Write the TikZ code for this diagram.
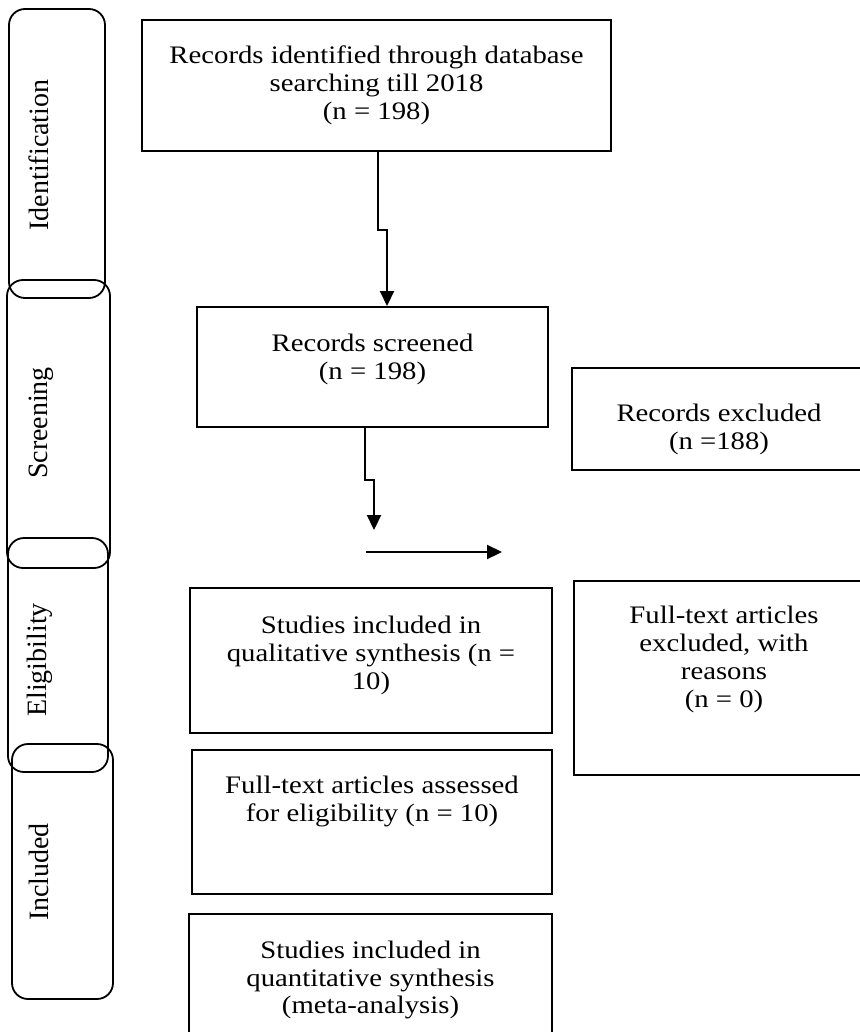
\documentclass[tikz,border=0pt,12pt]{standalone}
\usepackage{fontspec}
\setmainfont{Liberation Serif}[FakeStretch=1.14]
\newfontfamily\lanefont{Liberation Serif}
\usetikzlibrary{arrows.meta}

% invisible struts to nudge text inside the boxes
\newcommand{\padb}[1]{\rule[-#1]{0pt}{#1}}
\newcommand{\padt}[1]{\rule{0pt}{#1}}

\begin{document}
\begin{tikzpicture}[
  x=0.5pt,y=-0.5pt,
  font=\fontsize{12.6}{13.9}\selectfont,
  box/.style={draw,line width=1pt,align=center,inner sep=0pt},
  lane/.style={draw,line width=0.9pt,rounded corners=8pt},
  tag/.style={rotate=90,anchor=base,inner sep=0pt,font=\lanefont\fontsize{14}{16}\selectfont},
  arr/.style={line width=1.1pt,-{Triangle[length=7.5pt,width=7pt]}}
]
\clip (0,0) rectangle (860,1032);
% stage lanes
\draw[lane] (9,9) rectangle (105,298);
\draw[lane] (7,280) rectangle (110,568);
\draw[lane] (8,538) rectangle (108,772);
\draw[lane] (12,744) rectangle (113,999);
\node[tag] (identtag) at (48,155) {Identification};
\node[tag] (screentag) at (47,423) {Screening};
\node[tag] (eligtag) at (46,660) {Eligibility};
\node[tag] (incltag) at (48,872) {Included};
% boxes
\node[box,minimum width=234.5pt,minimum height=65.5pt] (ident) at (376.5,85.5) {Records identified through database\\searching till 2018\\(n = 198)};
\node[box,minimum width=175.5pt,minimum height=60pt] (screened) at (372.5,367) {Records screened\\(n = 198)\padb{10.2pt}};
\node[box,minimum width=147pt,minimum height=51pt] (excl) at (719,419) {\padt{19.4pt}Records excluded\\(n =188)};
\node[box,minimum width=181pt,minimum height=72.5pt] (qual) at (371,660.5) {Studies included in\\qualitative synthesis (n =\\10)\padb{7.9pt}};
\node[box,minimum width=150pt,minimum height=97pt] (ftexcl) at (724,678) {Full-text articles\\excluded, with\\reasons\\(n = 0)\padb{21.2pt}};
\node[box,minimum width=180pt,minimum height=72pt] (ftassess) at (372,822) {Full-text articles assessed\\for eligibility (n = 10)\padb{23.4pt}};
\node[box,minimum width=181.5pt,minimum height=66pt] (quant) at (370.5,980) {Studies included in\\quantitative synthesis\\(meta-analysis)};
% connectors
\coordinate (tipA) at (374,530);
\coordinate (hstart) at (366,552);
\coordinate (hend) at (502,552);
\draw[arr] ([xshift=0.75pt]ident.south) -- ++(0,78) -| ([xshift=7.25pt]screened.north);
\draw[arr] ([xshift=-3.75pt]screened.south) -- ++(0,52) -| (tipA);
\draw[arr] (hstart) -- (hend);
\end{tikzpicture}
\end{document}
